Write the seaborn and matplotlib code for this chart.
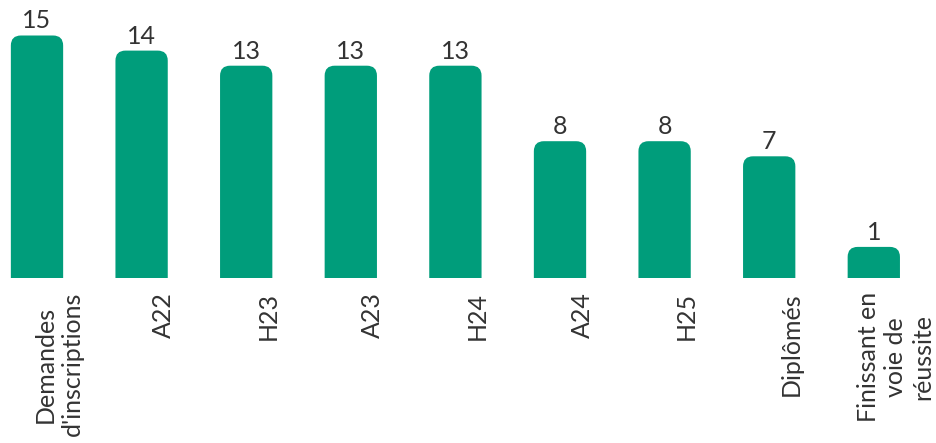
import matplotlib
matplotlib.use("Agg")
import matplotlib.pyplot as plt
import matplotlib.transforms as mtransforms
from matplotlib.patches import FancyBboxPatch
import seaborn as sns
import pandas as pd

# Data
categories = ["Demandes\nd'inscriptions", "A22", "H23", "A23", "H24",
              "A24", "H25", "Diplômés", "Finissant en\nvoie de\nréussite"]
values = [15, 14, 13, 13, 13, 8, 8, 7, 1]

df = pd.DataFrame({"cat": categories, "val": values})

sns.set_theme(style="white")
plt.rcParams['font.family'] = ['Lato', 'DejaVu Sans']

bar_color = "#009D7B"
text_color = "#333333"

fig = plt.figure(figsize=(9.36, 4.43), dpi=100)
ax = fig.add_axes([0, 1 - 278 / 443, 1, (278 - 20) / 443])

sns.barplot(data=df, x="cat", y="val", color=bar_color, width=0.5,
            saturation=1, ax=ax)

# axis starts a bit below zero, like the original
px_x = 104.6   # pixels per x unit
px_y = 15.1    # pixels per y unit
ax.set_xlim(-37 / px_x, (936 - 37) / px_x)
ax.set_ylim(-16 / px_y, 242 / px_y)

# replace plain bars with top-rounded ones
r = 10 / px_x
for p in list(ax.patches):
    x0, w, h = p.get_x(), p.get_width(), p.get_height()
    rb = FancyBboxPatch((x0, -3), w, h + 3,
                        boxstyle=f"round,pad=0,rounding_size={r}",
                        mutation_aspect=px_x / px_y,
                        facecolor=bar_color, edgecolor="none",
                        clip_on=True)
    ax.add_patch(rb)
    p.set_visible(False)

for i, v in enumerate(values):
    ax.text(i, v + 0.2, str(v), ha="center", va="bottom",
            fontsize=18, color=text_color)

ax.set_xlabel("")
ax.set_ylabel("")
ax.set_yticks([])
ax.set_xticks(range(len(categories)))
ax.set_xticklabels(categories, rotation=90, ha="center", va="top",
                   multialignment="center", fontsize=18, color=text_color)
ax.tick_params(axis="x", length=0, pad=10)
offset = mtransforms.ScaledTranslation(22 / 100, 0, fig.dpi_scale_trans)
for lbl in ax.get_xticklabels():
    lbl.set_transform(lbl.get_transform() + offset)

sns.despine(ax=ax, left=True, bottom=True)

fig.savefig("out.png", dpi=100)
